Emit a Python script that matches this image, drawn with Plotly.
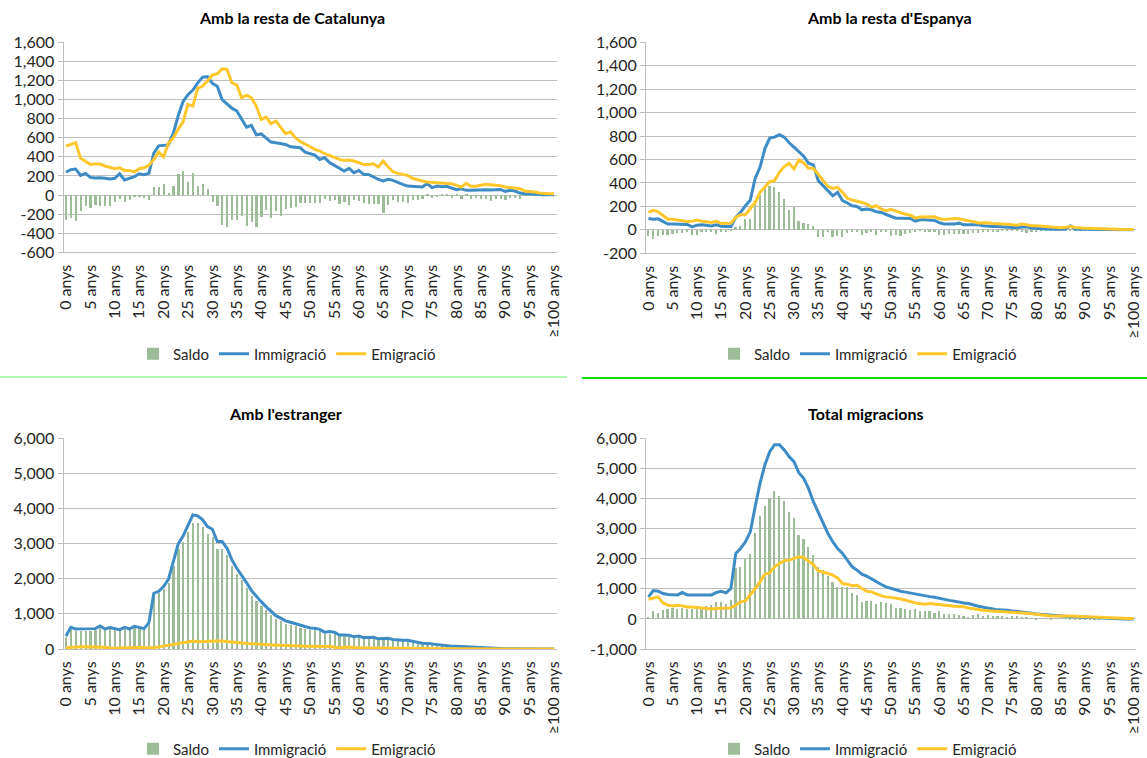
import plotly.graph_objects as go

AGES = list(range(101))
X_TICK_VALS = [0, 5, 10, 15, 20, 25, 30, 35, 40, 45, 50, 55, 60, 65, 70, 75, 80, 85, 90, 95, 100]
X_TICK_TEXT = ["0 anys", "5 anys", "10 anys", "15 anys", "20 anys", "25 anys", "30 anys",
               "35 anys", "40 anys", "45 anys", "50 anys", "55 anys", "60 anys", "65 anys",
               "70 anys", "75 anys", "80 anys", "85 anys", "90 anys", "95 anys", "≥100 anys"]

TITLES = ["Amb la resta de Catalunya", "Amb la resta d'Espanya", "Amb l'estranger", "Total migracions"]

# ---- Panel 1: Amb la resta de Catalunya
P1_IMM = [241, 265, 272, 206, 227, 185, 178, 181, 175, 168,
          175, 223, 157, 171, 192, 223, 213, 227, 440, 515,
          520, 525, 650, 830, 980, 1050, 1100, 1175, 1235, 1240,
          1170, 1140, 1000, 950, 910, 880, 790, 710, 730, 630,
          640, 600, 555, 548, 540, 530, 505, 500, 495, 450,
          435, 419, 373, 391, 339, 311, 286, 251, 279, 234,
          258, 216, 216, 188, 164, 147, 164, 154, 129, 112,
          94, 91, 87, 84, 119, 77, 94, 87, 91, 70,
          56, 66, 49, 49, 52, 52, 56, 52, 56, 59,
          38, 49, 42, 21, 14, 10, 7, 3, 3, 3, 3]
P1_EMI = [513, 530, 548, 384, 356, 321, 325, 325, 304, 293,
          276, 286, 258, 258, 241, 276, 286, 311, 373, 450,
          401, 541, 600, 688, 768, 949, 932, 1117, 1141, 1194,
          1256, 1270, 1323, 1316, 1176, 1152, 1019, 1047, 1019, 932,
          792, 817, 747, 775, 705, 642, 663, 600, 560, 530,
          500, 478, 461, 433, 415, 391, 373, 363, 366, 356,
          339, 321, 321, 328, 293, 356, 293, 244, 227, 216,
          206, 175, 157, 147, 136, 133, 129, 126, 119, 119,
          101, 84, 122, 91, 91, 101, 112, 108, 105, 98,
          84, 80, 77, 66, 42, 38, 31, 21, 14, 14, 14]
P1_SAL = [-262, -244, -272, -168, -115, -140, -108, -122, -122, -115,
          -80, -45, -80, -56, -28, -28, -38, -52, 77, 77,
          108, 14, 94, 216, 248, 129, 230, 94, 112, 59,
          -80, -115, -314, -342, -265, -265, -220, -325, -290, -335,
          -237, -160, -244, -168, -220, -150, -140, -133, -87, -91,
          -84, -91, -87, -45, -63, -56, -98, -80, -108, -56,
          -70, -91, -98, -98, -98, -195, -105, -52, -73, -80,
          -87, -56, -56, -45, -5, -38, -28, -17, -10, -31,
          -17, -42, -17, -42, -35, -45, -42, -63, -49, -45,
          -52, -38, -31, -49, -17, -10, -5, -3, 0, -2, 0]

# ---- Panel 2: Amb la resta d'Espanya
P2_IMM = [97, 91, 94, 69, 49, 49, 49, 49, 46, 26,
          40, 43, 40, 34, 43, 31, 29, 29, 106, 149,
          206, 254, 440, 534, 691, 783, 791, 811, 791, 743,
          706, 663, 629, 569, 554, 420, 377, 326, 291, 320,
          249, 229, 206, 200, 171, 177, 171, 154, 149, 131,
          115, 100, 100, 100, 97, 74, 86, 86, 86, 80,
          60, 49, 49, 49, 57, 43, 43, 43, 43, 35,
          29, 29, 29, 25, 20, 20, 20, 20, 26, 15,
          11, 11, 8, 6, 6, 6, 6, 34, 6, 6,
          6, 6, 5, 3, 1, 0, 0, 0, 0, 0, 0]
P2_EMI = [149, 166, 154, 120, 91, 91, 83, 77, 71, 74,
          83, 74, 71, 63, 74, 54, 57, 57, 106, 129,
          129, 177, 234, 320, 363, 411, 420, 491, 540, 569,
          520, 597, 571, 526, 526, 477, 429, 371, 354, 363,
          320, 269, 254, 246, 234, 220, 194, 206, 177, 163,
          175, 160, 145, 133, 125, 100, 110, 111, 111, 111,
          95, 88, 92, 97, 94, 88, 80, 70, 58, 60,
          60, 55, 54, 52, 48, 43, 40, 49, 40, 36,
          34, 30, 25, 20, 20, 18, 22, 29, 20, 15,
          14, 13, 11, 8, 6, 5, 4, 3, 3, 3, 3]
P2_SAL = [-51, -80, -51, -46, -43, -34, -29, -29, -17, -43,
          -43, -23, -23, -17, -37, -17, -23, -14, 20, 34,
          86, 91, 220, 297, 363, 371, 363, 320, 263, 171,
          191, 77, 57, 46, 34, -66, -66, -23, -66, -51,
          -66, -29, -23, -23, -46, -31, -17, -46, -23, -23,
          -57, -50, -55, -35, -28, -25, -10, -20, -20, -25,
          -50, -45, -42, -40, -38, -42, -38, -30, -30, -22,
          -20, -18, -20, -15, -12, -10, -8, -25, -28, -22,
          -20, -15, -12, -8, -10, -8, 10, -5, -12, -10,
          -8, -7, -6, -5, -4, -3, -2, -2, -1, -1, -1]

# ---- Panel 3: Amb l'estranger
P3_IMM = [370, 618, 570, 570, 560, 580, 580, 655, 570, 608,
          570, 551, 618, 570, 646, 608, 580, 750, 1587, 1644,
          1777, 1986, 2489, 2993, 3220, 3534, 3819, 3790, 3677, 3487,
          3411, 3059, 3059, 2869, 2537, 2299, 2109, 1891, 1663, 1492,
          1349, 1207, 1064, 950, 880, 800, 760, 720, 680, 640,
          600, 590, 560, 480, 495, 480, 400, 400, 390, 352,
          371, 324, 330, 333, 290, 300, 305, 270, 250, 248,
          248, 220, 190, 165, 160, 143, 130, 114, 86, 76,
          76, 67, 67, 62, 57, 45, 38, 20, 10, 8,
          6, 5, 4, 3, 3, 2, 2, 1, 1, 1, 1]
P3_EMI = [38, 50, 66, 66, 66, 66, 60, 55, 47, 30,
          19, 30, 38, 45, 45, 45, 40, 38, 38, 60,
          85, 110, 142, 165, 190, 220, 228, 210, 209, 215,
          218, 225, 228, 210, 190, 170, 161, 155, 152, 140,
          133, 120, 114, 108, 104, 95, 85, 85, 85, 80,
          76, 66, 60, 70, 75, 50, 30, 50, 60, 45,
          30, 30, 28, 28, 25, 25, 22, 20, 20, 18,
          18, 15, 15, 12, 12, 10, 10, 8, 8, 6,
          6, 5, 5, 4, 4, 3, 3, 3, 2, 2,
          2, 2, 1, 1, 1, 1, 1, 1, 1, 1, 1]
P3_SAL = [330, 570, 505, 505, 495, 515, 520, 600, 525, 578,
          550, 520, 580, 525, 600, 563, 540, 712, 1550, 1585,
          1690, 1875, 2345, 2830, 3030, 3315, 3590, 3580, 3470, 3270,
          3195, 2835, 2830, 2660, 2345, 2130, 1950, 1735, 1510, 1350,
          1215, 1090, 950, 840, 775, 705, 675, 635, 595, 560,
          525, 525, 500, 410, 420, 430, 370, 350, 330, 307,
          340, 294, 302, 305, 265, 275, 283, 250, 230, 230,
          230, 205, 175, 153, 148, 133, 120, 106, 78, 70,
          70, 62, 62, 58, 53, 42, 35, 17, 8, 6,
          4, 3, 3, 2, 2, 1, 1, 0, 0, 0, 0]

# ---- Panel 4: Total migracions
P4_IMM = [732, 943, 920, 843, 810, 810, 798, 876, 798, 798,
          798, 821, 821, 798, 876, 920, 865, 1009, 2174, 2340,
          2562, 2894, 3726, 4502, 5112, 5556, 5789, 5789, 5612, 5390,
          5223, 4857, 4669, 4336, 3893, 3527, 3172, 2839, 2562, 2340,
          2174, 1930, 1730, 1619, 1486, 1420, 1320, 1220, 1142, 1065,
          1010, 980, 920, 890, 860, 820, 780, 755, 740, 720,
          680, 640, 615, 590, 550, 530, 510, 460, 420, 390,
          350, 330, 300, 305, 290, 265, 250, 230, 200, 185,
          160, 145, 125, 115, 100, 92, 85, 78, 70, 62,
          56, 48, 40, 25, 15, 5, 0, 0, 0, 0, 0]
P4_EMI = [654, 699, 732, 532, 455, 433, 455, 433, 399, 399,
          377, 366, 355, 333, 344, 344, 344, 366, 455, 566,
          599, 787, 1009, 1231, 1486, 1530, 1730, 1841, 1930, 1952,
          2007, 2063, 2041, 1919, 1808, 1597, 1564, 1508, 1453, 1364,
          1176, 1153, 1098, 1120, 1009, 920, 898, 832, 765, 732,
          699, 690, 660, 630, 580, 530, 500, 490, 511, 490,
          470, 440, 422, 422, 410, 400, 360, 330, 311, 289,
          270, 262, 256, 240, 233, 215, 205, 200, 185, 170,
          150, 125, 115, 100, 95, 105, 110, 100, 92, 85,
          78, 65, 55, 40, 28, 20, 12, 10, 10, 10, 10]
P4_SAL = [67, 255, 200, 288, 322, 344, 322, 355, 333, 322,
          344, 366, 433, 455, 543, 566, 488, 621, 1675, 1730,
          1985, 2152, 2839, 3416, 3749, 3993, 4248, 4059, 3893, 3527,
          3338, 2784, 2651, 2373, 2118, 1730, 1619, 1420, 1231, 1042,
          1042, 1042, 843, 787, 566, 588, 588, 488, 543, 510,
          488, 344, 366, 330, 300, 320, 260, 250, 250, 180,
          240, 160, 140, 150, 130, 90, 40, 110, 150, 90,
          130, 90, 70, 80, 40, 80, 90, 60, 30, 20,
          -20, -10, 20, -30, 10, 20, -10, -30, -30, -40,
          -30, -20, -30, -20, -10, -5, -5, -5, -5, -5, -10]

Y1_VALS = [-600, -400, -200, 0, 200, 400, 600, 800, 1000, 1200, 1400, 1600]
Y1_TEXT = ["-600", "-400", "-200", "0", "200", "400", "600", "800", "1,000", "1,200", "1,400", "1,600"]
Y2_VALS = [-200, 0, 200, 400, 600, 800, 1000, 1200, 1400, 1600]
Y2_TEXT = ["-200", "0", "200", "400", "600", "800", "1,000", "1,200", "1,400", "1,600"]
Y3_VALS = [0, 1000, 2000, 3000, 4000, 5000, 6000]
Y3_TEXT = ["0", "1,000", "2,000", "3,000", "4,000", "5,000", "6,000"]
Y4_VALS = [-1000, 0, 1000, 2000, 3000, 4000, 5000, 6000]
Y4_TEXT = ["-1,000", "0", "1,000", "2,000", "3,000", "4,000", "5,000", "6,000"]

for arr in [P1_IMM, P1_EMI, P1_SAL, P2_IMM, P2_EMI, P2_SAL, P3_IMM, P3_EMI, P3_SAL, P4_IMM, P4_EMI, P4_SAL]:
    assert len(arr) == 101, len(arr)

W, H = 1147, 758
GREEN = "#9dbd99"
BLUE = "#3d8cc5"
YELLOW = "#ffc72c"
GRID = "#bfbfbf"
FONT = "Lato"
TXT = "#262626"
TICK_SIZE = 16

panels = [
    dict(imm=P1_IMM, emi=P1_EMI, sal=P1_SAL, yv=Y1_VALS, yt=Y1_TEXT, rng=[-600, 1600],
         xd=[63.5, 556.5], yd=[252.3, 42.3], title_x=292, title_y=17, leg_x=287, leg_y=354),
    dict(imm=P2_IMM, emi=P2_EMI, sal=P2_SAL, yv=Y2_VALS, yt=Y2_TEXT, rng=[-200, 1600],
         xd=[646, 1136], yd=[253.3, 42.3], title_x=890, title_y=17, leg_x=868, leg_y=354),
    dict(imm=P3_IMM, emi=P3_EMI, sal=P3_SAL, yv=Y3_VALS, yt=Y3_TEXT, rng=[0, 6000],
         xd=[63.5, 556.5], yd=[649, 438.3], title_x=285, title_y=413, leg_x=287, leg_y=749),
    dict(imm=P4_IMM, emi=P4_EMI, sal=P4_SAL, yv=Y4_VALS, yt=Y4_TEXT, rng=[-1000, 6000],
         xd=[646, 1136], yd=[649, 438.3], title_x=866, title_y=413, leg_x=868, leg_y=749),
]

fig = go.Figure()
layout = dict(width=W, height=H, margin=dict(l=0, r=0, t=0, b=0, autoexpand=False),
              paper_bgcolor="white", plot_bgcolor="white", bargap=0.0,
              font=dict(family=FONT, size=TICK_SIZE, color=TXT), annotations=[], shapes=[])

for i, p in enumerate(panels, start=1):
    sfx = "" if i == 1 else str(i)
    xa, ya = "x" + sfx, "y" + sfx
    leg = "legend" + sfx
    fig.add_trace(go.Bar(x=AGES, y=p["sal"], name="Saldo", marker=dict(color=GREEN, line=dict(width=0)),
                         width=0.35, xaxis=xa, yaxis=ya, legend=leg))
    fig.add_trace(go.Scatter(x=AGES, y=p["imm"], name="Immigració", mode="lines",
                             line=dict(color=BLUE, width=3), xaxis=xa, yaxis=ya, legend=leg))
    fig.add_trace(go.Scatter(x=AGES, y=p["emi"], name="Emigració", mode="lines",
                             line=dict(color=YELLOW, width=3), xaxis=xa, yaxis=ya, legend=leg))
    layout["xaxis" + sfx] = dict(domain=[p["xd"][0] / W, p["xd"][1] / W], anchor=ya,
                                 range=[-0.5, 100.5], tickvals=X_TICK_VALS, ticktext=X_TICK_TEXT,
                                 tickangle=-90, showgrid=False, zeroline=False,
                                 showline=True, linecolor=GRID, linewidth=1,
                                 ticks="outside", ticklen=5, tickcolor="rgba(0,0,0,0)",
                                 ticklabeloverflow="allow",
                                 tickfont=dict(family=FONT, size=TICK_SIZE, color=TXT))
    layout["yaxis" + sfx] = dict(domain=[1 - p["yd"][0] / H, 1 - p["yd"][1] / H], anchor=xa,
                                 range=p["rng"], tickvals=p["yv"], ticktext=p["yt"],
                                 showgrid=True, gridcolor=GRID, gridwidth=1, zeroline=False,
                                 showline=True, linecolor=GRID, linewidth=1,
                                 ticks="outside", ticklen=5, tickcolor=GRID,
                                 ticklabeloverflow="allow",
                                 tickfont=dict(family=FONT, size=TICK_SIZE, color=TXT))
    layout[leg] = dict(orientation="h", x=p["leg_x"] / W, y=1 - p["leg_y"] / H,
                       xanchor="center", yanchor="middle", bgcolor="rgba(0,0,0,0)",
                       font=dict(family=FONT, size=15, color=TXT), itemwidth=30,
                       traceorder="normal")
    layout["annotations"].append(dict(text="<b>" + TITLES[i - 1] + "</b>", xref="paper", yref="paper",
                                      x=p["title_x"] / W, y=1 - p["title_y"] / H,
                                      xanchor="center", yanchor="middle", showarrow=False,
                                      font=dict(family=FONT, size=16, color="#000000")))

layout["shapes"] = [
    dict(type="line", xref="paper", yref="paper", x0=0, x1=567 / W, y0=1 - 377 / H, y1=1 - 377 / H,
         line=dict(color="#66ee66", width=1)),
    dict(type="line", xref="paper", yref="paper", x0=582 / W, x1=1, y0=1 - 378 / H, y1=1 - 378 / H,
         line=dict(color="#11dd11", width=2)),
]

fig.update_layout(**layout)
fig.write_html("out.html", config={"displayModeBar": False},
               post_script="document.body.style.margin='0';document.body.style.overflow='hidden';")
